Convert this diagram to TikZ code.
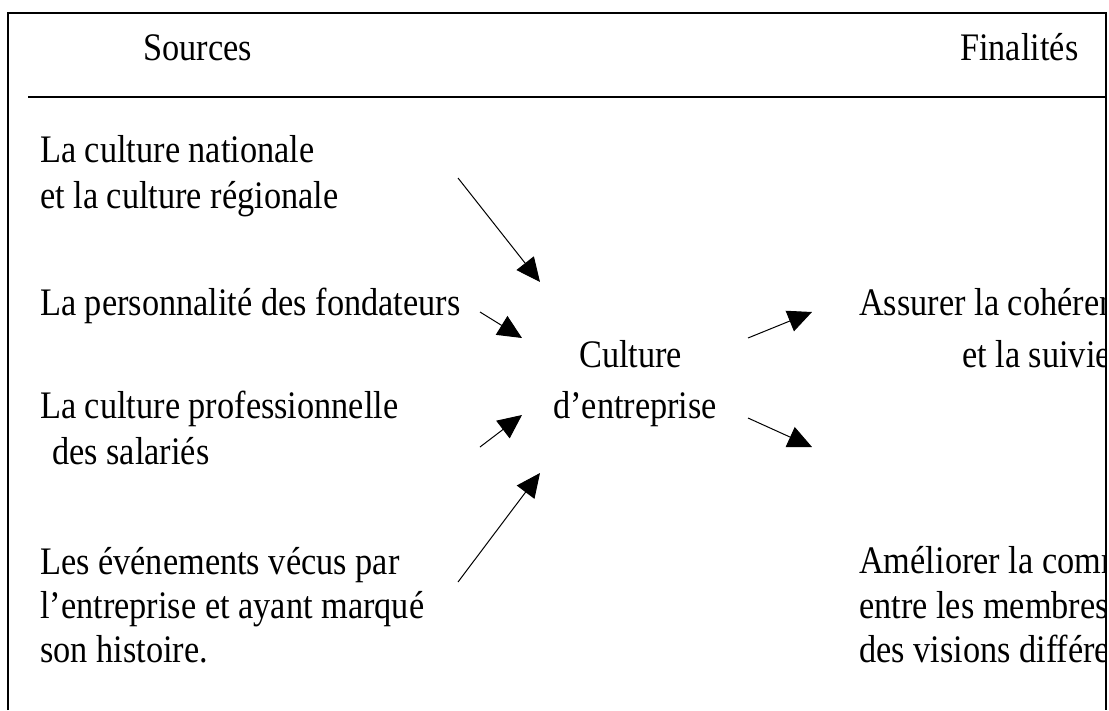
\documentclass[tikz,border=0pt]{standalone}
\usepackage{fontspec}
\setmainfont[FakeStretch=0.88]{Liberation Serif}
\usetikzlibrary{arrows.meta}
\begin{document}
\begin{tikzpicture}[x=1pt,y=-1pt,
  txt/.style={anchor=base west,inner sep=0pt,font=\fontsize{39}{46}\selectfont},
  frame/.style={line width=2pt},
  arr/.style={line width=1pt,-{Triangle[length=24pt,width=22pt]}}]
\useasboundingbox[fill=white] (0,0) rectangle (1109,710);
% frame
\draw[frame] (8,710) -- (8,13) -- (1106,13) -- (1106,710);
\draw[frame] (28,97) -- (1106,97);
% header
\node[txt] (sources) at (143,60) {Sources};
\node[txt] (finalites) at (960,60) {Finalités};
% sources
\node[txt] (s1a) at (40,162) {La culture nationale};
\node[txt] (s1b) at (40,208) {et la culture régionale};
\node[txt] (s2) at (40,315) {La personnalité des fondateurs};
\node[txt] (s3a) at (40,418) {La culture professionnelle};
\node[txt] (s3b) at (52,464) {des salariés};
\node[txt] (s4a) at (40,574) {Les événements vécus par};
\node[txt] (s4b) at (40,618) {l’entreprise et ayant marqué};
\node[txt] (s4c) at (40,662) {son histoire.};
% centre
\node[txt] (c1) at (579,367) {Culture};
\node[txt] (c2) at (553,418) {d’entreprise};
% finalities (clipped at frame)
\begin{scope}
\clip (0,0) rectangle (1105,710);
\node[txt] (f1a) at (859,315) {Assurer la cohérence};
\node[txt] (f1b) at (962,367) {et la suivie};
\node[txt] (f2a) at (859,573) {Améliorer la communication};
\node[txt] (f2b) at (859,618) {entre les membres};
\node[txt] (f2c) at (859,662) {des visions différentes};
\end{scope}
% arrows
\coordinate (a1s) at (458,178); \coordinate (a1e) at (540,282);
\coordinate (a2s) at (480,312); \coordinate (a2e) at (522,338);
\coordinate (a3s) at (480,447); \coordinate (a3e) at (522,415);
\coordinate (a4s) at (458,582); \coordinate (a4e) at (540,473);
\coordinate (a5s) at (748,338); \coordinate (a5e) at (812,312);
\coordinate (a6s) at (748,418); \coordinate (a6e) at (812,447);
\draw[arr] (a1s) -- (a1e);
\draw[arr] (a2s) -- (a2e);
\draw[arr] (a3s) -- (a3e);
\draw[arr] (a4s) -- (a4e);
\draw[arr] (a5s) -- (a5e);
\draw[arr] (a6s) -- (a6e);
\end{tikzpicture}
\end{document}
